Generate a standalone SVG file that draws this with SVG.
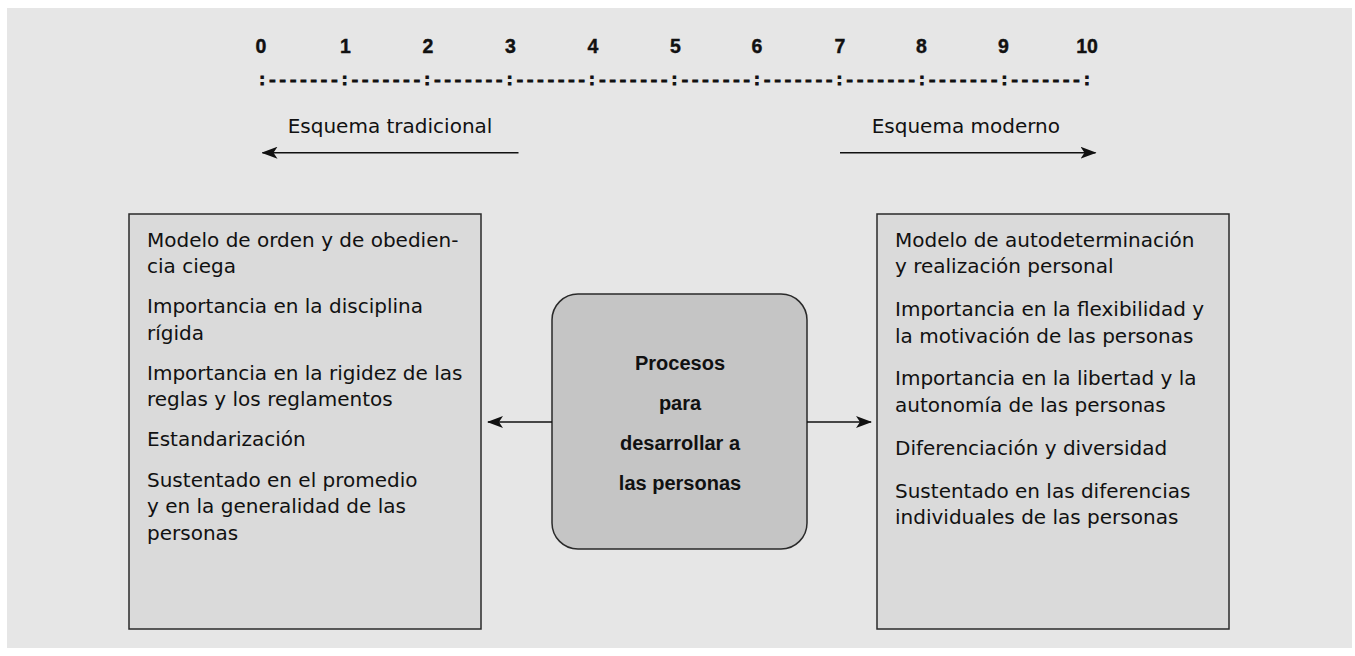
<svg xmlns="http://www.w3.org/2000/svg" width="1355" height="656" viewBox="0 0 1355 656">
  <style>
    .panel { fill: #e6e6e6; }
    .box { fill: #dadada; stroke: #2a2a2a; stroke-width: 1.5; }
    .core { fill: #c5c5c5; stroke: #2a2a2a; stroke-width: 1.5; }
    .t { font-family: "DejaVu Sans", "Liberation Sans", sans-serif; font-size: 20px; fill: #111; }
    .b { font-family: "Liberation Sans", Arial, sans-serif; font-weight: bold; font-size: 20px; fill: #111; text-anchor: middle; }
    .num { font-family: "Liberation Sans", Arial, sans-serif; font-weight: bold; font-size: 19.5px; fill: #111; stroke: #111; stroke-width: 0.4; text-anchor: middle; }
    .ruler { font-family: "Liberation Mono", "DejaVu Sans Mono", monospace; font-weight: bold; font-size: 17.2px; fill: #111; stroke: #111; stroke-width: 1; }
    .conn { stroke: #111; stroke-width: 1.5; fill: none; }
  </style>
  <defs>
    <marker id="arrow" viewBox="0 0 16 12" refX="15" refY="6" markerWidth="16" markerHeight="12" markerUnits="userSpaceOnUse" orient="auto">
      <path d="M0,0 L16,6 L0,12 L4,6 Z" fill="#111"/>
    </marker>
  </defs>

  <rect class="panel" x="7" y="8" width="1345" height="640"/>

  <g id="scale">
    <text class="num" x="261" y="52.7">0</text>
    <text class="num" x="345.5" y="52.7">1</text>
    <text class="num" x="428" y="52.7">2</text>
    <text class="num" x="510.5" y="52.7">3</text>
    <text class="num" x="593" y="52.7">4</text>
    <text class="num" x="675.5" y="52.7">5</text>
    <text class="num" x="757" y="52.7">6</text>
    <text class="num" x="840" y="52.7">7</text>
    <text class="num" x="921.5" y="52.7">8</text>
    <text class="num" x="1003.5" y="52.7">9</text>
    <text class="num" x="1087" y="52.7">10</text>
    <text class="ruler" x="257" y="84.5" textLength="835" lengthAdjust="spacing">:-------:-------:-------:-------:-------:-------:-------:-------:-------:-------:</text>
  </g>

  <g id="traditional-label">
    <text class="t" x="287.7" y="133.3">Esquema tradicional</text>
  </g>
  <g id="modern-label">
    <text class="t" x="871.7" y="133.3">Esquema moderno</text>
  </g>

  <g id="left-box">
    <rect class="box" x="129" y="214" width="352" height="415"/>
    <text class="t" x="147" y="246.7">Modelo de orden y de obedien-</text>
    <text class="t" x="147" y="273.3">cia ciega</text>
    <text class="t" x="147" y="313">Importancia en la disciplina</text>
    <text class="t" x="147" y="339.5">rígida</text>
    <text class="t" x="147" y="379.5">Importancia en la rigidez de las</text>
    <text class="t" x="147" y="406">reglas y los reglamentos</text>
    <text class="t" x="147" y="446">Estandarización</text>
    <text class="t" x="147" y="486.7">Sustentado en el promedio</text>
    <text class="t" x="147" y="513">y en la generalidad de las</text>
    <text class="t" x="147" y="539.5">personas</text>
  </g>

  <g id="center-box">
    <rect class="core" x="552" y="294" width="255" height="255" rx="26" ry="26"/>
    <text class="b" x="680" y="370">Procesos</text>
    <text class="b" x="680" y="410">para</text>
    <text class="b" x="680" y="450">desarrollar a</text>
    <text class="b" x="680" y="490">las personas</text>
  </g>

  <g id="right-box">
    <rect class="box" x="877" y="214" width="352" height="415"/>
    <text class="t" x="895" y="246.7">Modelo de autodeterminación</text>
    <text class="t" x="895" y="273">y realización personal</text>
    <text class="t" x="895" y="316">Importancia en la flexibilidad y</text>
    <text class="t" x="895" y="342.7">la motivación de las personas</text>
    <text class="t" x="895" y="385">Importancia en la libertad y la</text>
    <text class="t" x="895" y="411.7">autonomía de las personas</text>
    <text class="t" x="895" y="455">Diferenciación y diversidad</text>
    <text class="t" x="895" y="497.5">Sustentado en las diferencias</text>
    <text class="t" x="895" y="524">individuales de las personas</text>
  </g>

  <g id="connectors">
    <line class="conn" x1="518.5" y1="152.7" x2="262.5" y2="152.7" marker-end="url(#arrow)"/>
    <line class="conn" x1="840" y1="152.7" x2="1095.5" y2="152.7" marker-end="url(#arrow)"/>
    <line class="conn" x1="552" y1="422" x2="488" y2="422" marker-end="url(#arrow)"/>
    <line class="conn" x1="807" y1="422" x2="871" y2="422" marker-end="url(#arrow)"/>
  </g>
</svg>
